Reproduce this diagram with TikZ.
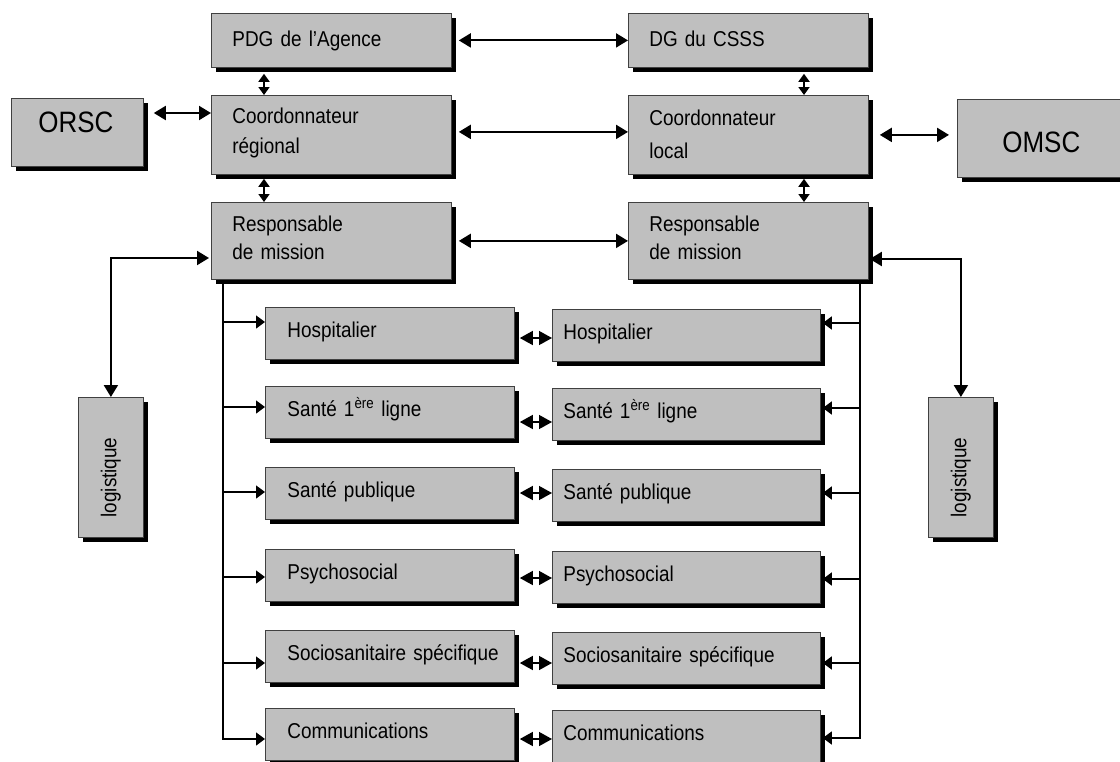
\documentclass[tikz,border=0pt]{standalone}
\usepackage{fontspec}
\setmainfont{Liberation Sans}[FakeStretch=0.88]
\usepackage{graphicx}
\usetikzlibrary{arrows.meta,positioning,calc,shadows}
\definecolor{boxgray}{gray}{0.75}
\definecolor{boxedge}{gray}{0.25}
\tikzset{
  box/.style={rectangle,draw=boxedge,line width=0.8pt,fill=boxgray,
    anchor=north west,inner ysep=0pt,align=left,
    drop shadow={shadow xshift=5pt,shadow yshift=-5pt,fill=black,opacity=1}},
  headbox/.style={box,text width=198pt,inner xsep=21pt},
  unitL/.style={box,text width=205pt,inner xsep=22pt,text height=30pt,text depth=22pt},
  unitR/.style={box,text width=246pt,inner xsep=11pt,text height=30pt,text depth=22pt},
  logbox/.style={box,align=center,minimum width=65pt,text height=120pt,text depth=20pt},
  sidebox/.style={box,text width=78pt,font=\fontsize{29.5}{32}\selectfont},
  hlink/.style={line width=2pt,{Triangle[length=12pt,width=14pt]}-{Triangle[length=12pt,width=14pt]}},
  vlink/.style={line width=1.8pt,{Triangle[length=8pt,width=11pt]}-{Triangle[length=8pt,width=11pt]}},
  branchto/.style={line width=1.4pt,-{Triangle[length=9pt,width=13pt]}},
  busline/.style={line width=1.4pt},
  pairlink/.style={line width=1.4pt,{Triangle[length=13pt,width=14pt]}-{Triangle[length=13pt,width=14pt]}},
}
\begin{document}
\begin{tikzpicture}[x=1pt,y=-1pt,font=\fontsize{21.5}{23}\selectfont]
  \useasboundingbox (0,0) rectangle (1120,761);
  % regional side
  \node[headbox,text height=33pt,text depth=21pt] (pdg) at (211,13) {PDG de l’Agence};
  \node[headbox,text height=28pt,text depth=51pt] (coordr) at (211,95) {Coordonnateur\\[7pt]régional};
  \node[headbox,text height=29pt,text depth=48pt] (respr) at (211,202) {Responsable\\[5pt]de mission};
  \node[sidebox,inner xsep=27pt,text height=34pt,text depth=34pt] (orsc) at (11,98) {ORSC};
  % local side
  \node[headbox,text height=33pt,text depth=21pt] (dg) at (628,13) {DG du CSSS};
  \node[headbox,text height=30pt,text depth=49pt] (coordl) at (628,95) {Coordonnateur\\[10pt]local};
  \node[headbox,text height=29pt,text depth=48pt] (respl) at (628,202) {Responsable\\[5pt]de mission};
  \node[sidebox,inner xsep=45pt,text height=53pt,text depth=25pt] (omsc) at (957,99) {OMSC};
  % logistics
  \node[logbox] (logL) at (78,397) {\rotatebox{90}{logistique}};
  \node[logbox] (logR) at (928,397) {\rotatebox{90}{logistique}};

  \draw[hlink] ([xshift=7pt]pdg.east) -- (dg.west);
  \draw[hlink] ([xshift=7pt,yshift=3pt]coordr.east) -- ([yshift=3pt]coordl.west);
  \draw[hlink] ([xshift=7pt]respr.east) -- (respl.west);
  \draw[vlink] ($(pdg.south west)+(53,6)$) -- ($(coordr.north west)+(53,0)$);
  \draw[vlink] ($(coordr.south west)+(53,4)$) -- ($(respr.north west)+(53,0)$);
  \draw[vlink] ($(dg.south west)+(176,6)$) -- ($(coordl.north west)+(176,0)$);
  \draw[vlink] ($(coordl.south west)+(176,4)$) -- ($(respl.north west)+(176,0)$);
  \coordinate (orscout) at ($(orsc.north east)+(10,15)$);
  \draw[hlink] (orscout) -- (orscout -| coordr.west);
  \draw[hlink] ([xshift=11pt]coordl.east) -- ([xshift=-8pt]coordl.east -| omsc.west);
  \draw[hlink] (logL.north) |- ($(respr.north west)+(-2,56)$);
  \draw[hlink] ($(respl.north east)+(1,57)$) -| (logR.north);

  % sectors
  \coordinate (busL) at ($(respr.south west)+(12,5)$);
  \coordinate (busR) at ($(respl.south east)+(-9,5)$);
  \foreach \nm/\txt/\ty/\yl/\yr/\ym in {
      hosp/Hospitalier/307/15/14/31,
      prim/Santé 1\textsuperscript{ère} ligne/386/21/20/36,
      pub/Santé publique/467/25/24/26,
      psy/Psychosocial/549/28/28/29,
      socio/\mbox{Sociosanitaire spécifique}/630/33/31/33,
      comm/Communications/708/31/28/31}{
    \node[unitL] (\nm-L) at (265,\ty) {\txt};
    \node[unitR] (\nm-R) at (552,\ty+2) {\txt};
    \coordinate (\nm-in) at ($(\nm-L.north west)+(0,\yl)$);
    \coordinate (\nm-out) at ($(\nm-R.north east)+(2,\yr)$);
    \coordinate (\nm-mid) at ($(\nm-L.north east)+(5,\ym)$);
    \draw[branchto] (busL |- \nm-in) -- (\nm-in);
    \draw[branchto] (busR |- \nm-out) -- (\nm-out);
    \draw[pairlink] (\nm-mid) -- (\nm-mid -| \nm-R.west);
  }
  \draw[busline,line cap=rect] (busL) -- (busL |- comm-in);
  \draw[busline,line cap=rect] (busR) -- (busR |- comm-out);
\end{tikzpicture}
\end{document}
